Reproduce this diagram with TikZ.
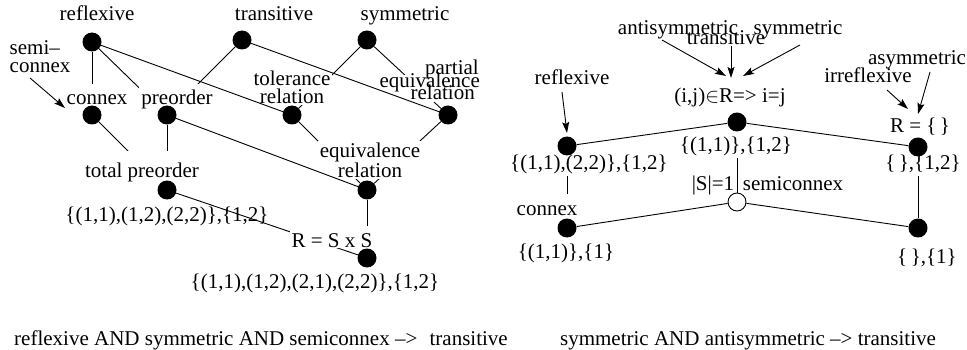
\documentclass[tikz,border=0pt]{standalone}
\usepackage{fontspec}
\setmainfont{Liberation Serif}
\usetikzlibrary{arrows.meta}
\pgfdeclarelayer{bg}
\pgfdeclarelayer{wbox}
\pgfdeclarelayer{mid}
\pgfsetlayers{bg,wbox,mid,main}
\tikzset{
  dot/.style={circle,fill=black,minimum size=19pt,inner sep=0pt},
  odot/.style={circle,draw=black,fill=white,minimum size=18pt,inner sep=0pt,line width=0.9pt},
  lab/.style={font=\fontsize{21}{19}\selectfont,inner xsep=2pt,inner ysep=1pt,
              text height=20pt,text depth=5pt,anchor=base},
  wlab/.style={lab,fill=white},
  thinlab/.style={lab,text height=11pt,text depth=1pt,anchor=base east},
  mlab/.style={font=\fontsize{21}{18}\selectfont,inner xsep=2pt,inner ysep=2pt,fill=white},
  edge/.style={line width=0.9pt},
  arr/.style={line width=0.9pt,-{Stealth[length=11pt,width=7pt,inset=2pt]}}
}
\begin{document}
\begin{tikzpicture}[x=1pt,y=-1pt]
\useasboundingbox (0,0) rectangle (967,350);

% ---------------- left diagram: dots
\node[dot] (refl) at (92,42) {};
\node[dot] (trans) at (242,40) {};
\node[dot] (sym) at (367,40) {};
\node[dot] (conn) at (92,115) {};
\node[dot] (pre) at (167,115) {};
\node[dot] (tol) at (292,115) {};
\node[dot] (peq) at (448,115) {};
\node[dot] (eq) at (367,190) {};
\node[dot] (tpre) at (167,190) {};
\node[dot] (full) at (367,258) {};

% ---------------- right diagram: dots
\node[dot] (rrefl) at (567,146) {};
\node[dot] (rant) at (737,122) {};
\node[dot] (rempty) at (918,147) {};
\node[dot] (rconn) at (567,228) {};
\node[odot] (rsemi) at (737,202) {};
\node[dot] (rempty1) at (918,228) {};

% ---------------- edges hidden behind labels
\begin{pgfonlayer}{bg}
\draw[edge] (refl) -- (conn);
\draw[edge] (refl) -- (pre);
\draw[edge] (trans) -- (pre);
\draw[edge] (sym) -- (tol);
\draw[edge] (sym) -- (peq);
\draw[edge] (tol) -- (eq);
\draw[edge] (peq) -- (eq);
\draw[edge] (conn) -- (tpre);
\draw[edge] (pre) -- (tpre);
\draw[edge] (eq) -- (full);
\draw[edge] (tpre) -- (full);
\draw[edge] (rrefl) -- (rconn);
\draw[edge] (rant) -- (rsemi);
\draw[edge] (rempty) -- (rempty1);
\end{pgfonlayer}

% ---------------- labels
\begin{pgfonlayer}{mid}
\node[lab] (lrefl) at (97,21) {reflexive};
\node[lab] (ltrans) at (274,21) {transitive};
\node[lab] (lsym) at (405,21) {symmetric};
\node[mlab,align=left,fill=none] (lsemi) at (40,57) {semi--\\connex};
\node[wlab] (lconn) at (97,105) {connex};
\node[wlab] (lpre) at (177,105) {preorder};
\node[mlab,align=center] (ltol) at (292,87) {tolerance\\relation};
\node[thinlab] (lpeq1) at (481,75) {partial};
\node[thinlab] (lpeq2) at (482,87.5) {equivalence};
\node[thinlab] (lpeq3) at (477,100) {relation};
\node[mlab,align=center] (leq) at (370,160) {equivalence\\relation};
\node[wlab,text height=26pt] (ltpre) at (142,178) {total preorder};
\node[lab] (stpre) at (167,222) {\{(1,1),(1,2),(2,2)\},\{1,2\}};
\node[wlab,text depth=0pt] (lfull) at (332,247) {R = S x S};
\node[lab] (sfull) at (315,288) {\{(1,1),(1,2),(2,1),(2,2)\},\{1,2\}};

\node[lab] (rlrefl) at (572,85) {reflexive};
\node[lab] (rlanti) at (678,35) {antisymmetric};
\node[lab] (rltrans) at (726,45) {transitive};
\node[lab] (rlsym) at (798,35) {symmetric};
\node[lab] (rlant) at (730,103) {(i,j)$\in$R=> i=j};
\node[lab] (rlirr) at (868,83) {irreflexive};
\node[lab] (rlasym) at (917,65) {asymmetric};
\node[lab] (rlempty) at (920,133) {R = \{\,\}};
\node[wlab] (rsrefl) at (589,170) {\{(1,1),(2,2)\},\{1,2\}};
\node[wlab] (rsant) at (736,152) {\{(1,1)\},\{1,2\}};
\node[wlab] (rsempty) at (923,170) {\{\,\},\{1,2\}};
\node[lab] (rlS) at (713,190) {|S|=1};
\node[lab] (rlsemi) at (793,190) {semiconnex};
\node[wlab] (rlconn) at (547,215) {connex};
\node[lab] (rsconn) at (566,258) {\{(1,1)\},\{1\}};
\node[lab] (rsempty1) at (927,263) {\{\,\},\{1\}};

\node[lab] (foot1) at (261,345) {reflexive AND symmetric AND semiconnex --> \hspace{7pt}transitive};
\node[lab] (foot2) at (748,345) {symmetric AND antisymmetric --> transitive};
\end{pgfonlayer}

% white backgrounds of the three lines of the partial equivalence label
\begin{pgfonlayer}{wbox}
\fill[white] (lpeq1.south west) rectangle (lpeq1.north east);
\fill[white] (lpeq2.south west) rectangle (lpeq2.north east);
\fill[white] (lpeq3.south west) rectangle (lpeq3.north east);
\end{pgfonlayer}

% ---------------- edges drawn over labels
\draw[edge] (refl) -- (tol);
\draw[edge] (trans) -- (peq);
\draw[edge] (pre) -- (eq);
\draw[edge] (rrefl) -- (rant);
\draw[edge] (rant) -- (rempty);
\draw[edge] (rconn) -- (rsemi);
\draw[edge] (rsemi) -- (rempty1);

% ---------------- arrows
\coordinate (a1s) at (30,78);   \coordinate (a1e) at (65,108);
\coordinate (a2s) at (562,92);  \coordinate (a2e) at (567,133);
\coordinate (a3s) at (662,40);  \coordinate (a3e) at (726,76);
\coordinate (a4s) at (731,46);  \coordinate (a4e) at (731,78);
\coordinate (a5s) at (800,45);  \coordinate (a5e) at (743,76);
\coordinate (a6s) at (887,90);  \coordinate (a6e) at (908,109);
\coordinate (a7s) at (930,72);  \coordinate (a7e) at (918,114);
\draw[arr] (a1s) -- (a1e);
\draw[arr] (a2s) -- (a2e);
\draw[arr] (a3s) -- (a3e);
\draw[arr] (a4s) -- (a4e);
\draw[arr] (a5s) -- (a5e);
\draw[arr] (a6s) -- (a6e);
\draw[arr] (a7s) -- (a7e);
\end{tikzpicture}
\end{document}
